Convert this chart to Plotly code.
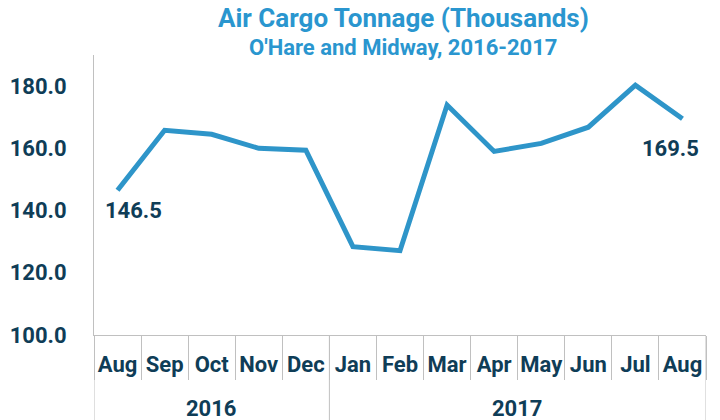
import plotly.graph_objects as go

months = ["Aug", "Sep", "Oct", "Nov", "Dec", "Jan", "Feb", "Mar", "Apr", "May", "Jun", "Jul", "Aug"]
years = ["2016"] * 5 + ["2017"] * 8
tonnage = [146.5, 165.8, 164.5, 160.0, 159.4, 128.4, 127.1, 173.9, 159.0, 161.6, 166.8, 180.3, 169.5]
yticks = [100, 120, 140, 160, 180]

LINE = "#2e95c9"
DARK = "#0f3d57"
TITLE = "#2a96cf"
GRAY = "#c0c0c0"
FONT = "Roboto"

idx = list(range(len(months)))

fig = go.Figure()
fig.add_trace(go.Scatter(
    x=idx, y=tonnage, mode="lines",
    line=dict(color=LINE, width=5), hoverinfo="skip", showlegend=False,
))

lab_font = dict(family=FONT, size=22, color=DARK, weight="bold")
fig.add_annotation(x=idx[0], y=tonnage[0], xref="x", yref="y", text=f"{tonnage[0]:.1f}",
                   showarrow=False, xshift=16, yshift=-20, font=lab_font)
fig.add_annotation(x=idx[-1], y=tonnage[-1], xref="x", yref="y", text=f"{tonnage[-1]:.1f}",
                   showarrow=False, xshift=-12, yshift=-30, font=lab_font)

# Year group labels and dividers
PH = 280.0
groups = []
for i, yv in enumerate(years):
    if not groups or groups[-1][0] != yv:
        groups.append([yv, i, i])
    else:
        groups[-1][2] = i
for yv, s, e in groups:
    fig.add_annotation(x=(s + e) / 2, y=(335 - 408) / PH, xref="x", yref="paper",
                       text=yv, showarrow=False, yanchor="middle",
                       font=dict(family=FONT, size=22, color=DARK, weight="bold"))
bounds = [groups[0][1] - 0.5] + [g[2] + 0.5 for g in groups]
for b in bounds:
    fig.add_shape(type="line", x0=b, x1=b, xref="x", y0=0, y1=-85 / PH, yref="paper",
                  line=dict(color=GRAY, width=1))

# Titles
fig.add_annotation(x=0.5, y=(335 - 18) / PH, xref="paper", yref="paper", xshift=3,
                   text="Air Cargo Tonnage (Thousands)", showarrow=False, yanchor="middle",
                   font=dict(family=FONT, size=26, color=TITLE, weight="bold"))
fig.add_annotation(x=0.5, y=(335 - 47) / PH, xref="paper", yref="paper", xshift=3,
                   text="O'Hare and Midway, 2016-2017", showarrow=False, yanchor="middle",
                   font=dict(family=FONT, size=22, color=TITLE, weight="bold"))

fig.update_layout(
    width=720, height=420,
    margin=dict(l=94, r=14, t=55, b=85, autoexpand=False),
    paper_bgcolor="white", plot_bgcolor="white",
    font=dict(family=FONT, color=DARK),
)

fig.update_yaxes(
    range=[100, 190], tickvals=yticks, tickformat=".1f", automargin=False,
    showgrid=False, zeroline=False, showline=True, linecolor=GRAY, linewidth=1,
    ticks="", ticklabelstandoff=22,
    tickfont=dict(family=FONT, size=22, color=DARK, weight="bold"),
)
fig.update_xaxes(
    range=[-0.5, len(months) - 0.5], tickvals=idx, ticktext=months, tickangle=0, automargin=False,
    showgrid=False, zeroline=False, showline=True, linecolor=GRAY, linewidth=1,
    ticks="", ticklabelstandoff=10,
    minor=dict(tickvals=[i - 0.5 for i in range(len(months) + 1)], ticks="outside",
               ticklen=44, tickcolor=GRAY, tickwidth=1, showgrid=False),
    tickfont=dict(family=FONT, size=22, color=DARK, weight="bold"),
)

fig.write_html("out.html", config={"displayModeBar": False},
               post_script="document.body.style.margin='0';document.body.style.overflow='hidden';")
